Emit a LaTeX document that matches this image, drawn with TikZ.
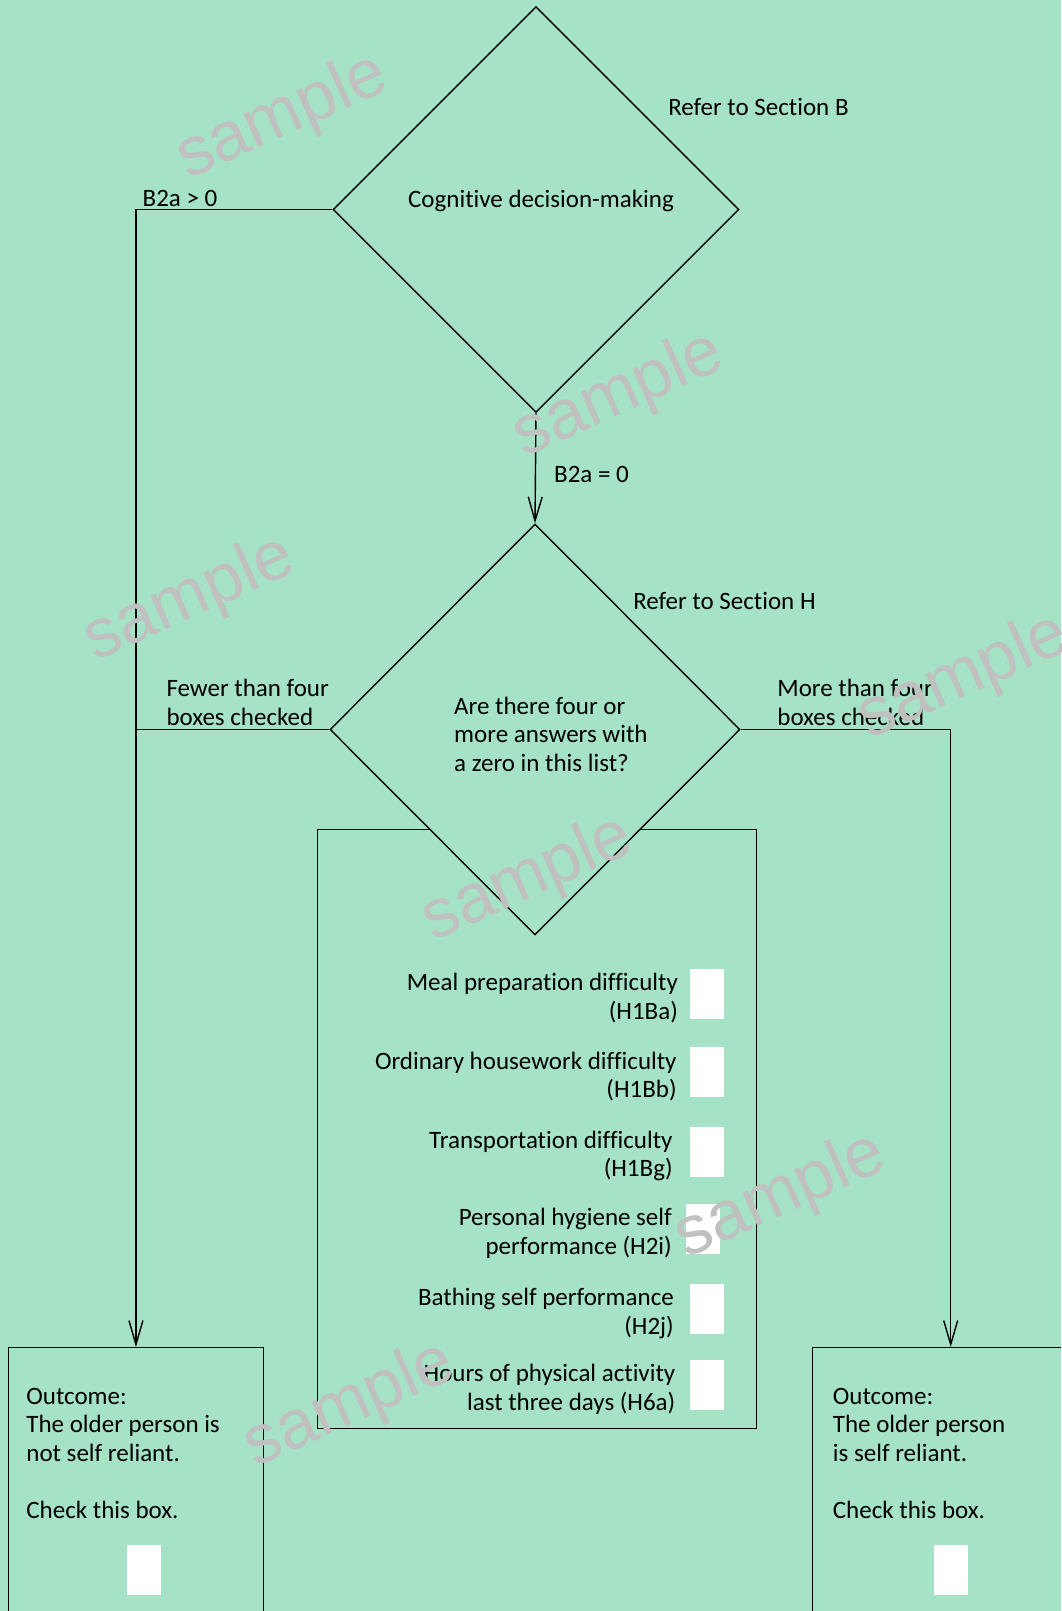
\documentclass[tikz,border=0pt]{standalone}
\usepackage{fontspec}
\setmainfont{Carlito}[Ligatures=NoCommon]
\newfontfamily\wmfont{Liberation Sans}
\usetikzlibrary{shapes.geometric,arrows.meta}
\definecolor{bg}{RGB}{165,226,198}
\definecolor{wm}{RGB}{192,192,192}
\begin{document}
\begin{tikzpicture}[x=1pt,y=-1pt,
  line width=1.4pt,
  txt/.style={font=\fontsize{25}{28.5}\selectfont, inner sep=0pt},
  dia/.style={diamond, draw, fill=bg, inner sep=0pt, aspect=1},
  arr/.style={-{Straight Barb[length=24pt,width=14pt]}},
  frame/.style={draw, rectangle, inner sep=0pt, anchor=north west},
  chk/.style={fill=white, draw=none, inner sep=0pt, minimum width=34pt, minimum height=50pt, anchor=north west},
  wmark/.style={font=\wmfont\fontsize{69}{69}\selectfont, text=wm, rotate=24, inner sep=0pt}
]
\fill[bg] (0,0) rectangle (1061,1611);
\useasboundingbox (0,0) rectangle (1061,1611);
\clip (0,0) rectangle (1061,1611);

% boxes
\node[frame, minimum width=439.2pt, minimum height=599pt] (lst) at (316.6,829) {};
\node[frame, minimum width=254.5pt, minimum height=320pt] (lo) at (8,1347) {};
\node[frame, minimum width=276pt, minimum height=320pt] (ro) at (812,1347) {};

% diamonds
\node[dia, minimum width=406pt, minimum height=406pt] (d1) at (536,209.5) {};
\node[dia, minimum width=410pt, minimum height=411pt] (d2) at (535,729.5) {};

% connectors
\draw[arr] (d1.west) -| (lo.north);
\draw[arr] (d1.south) -- (d2.north);
\draw (d2.west) -- (d2.west -| lo.north);
\draw[arr] (d2.east) -| (ro.north);

% texts (multi-line nodes are anchored at the baseline of their last line)
\node[txt, anchor=base west] (refb) at (667.6,115) {Refer to Section B};
\node[txt, anchor=base] (cog) at (541,207) {Cognitive decision-making};
\node[txt, anchor=base west] (gt) at (142,206) {B2a > 0};
\node[txt, anchor=base west] (eq) at (553.5,482) {B2a = 0};
\node[txt, anchor=base west] (refh) at (632.6,609.5) {Refer to Section H};
\node[txt, anchor=base west, align=left] (fewer) at (165.8,725) {Fewer than four\\boxes checked};
\node[txt, anchor=base west, align=left] (more) at (776.7,725) {More than four\\boxes checked};
\node[txt, anchor=base west, align=left] (q) at (453.5,771) {Are there four or\\more answers with\\a zero in this list?};

\node[txt, anchor=base east, align=right] (i1) at (678.6,1019) {Meal preparation difficulty\\(H1Ba)};
\node[txt, anchor=base east, align=right] (i2) at (677.3,1097.5) {Ordinary housework difficulty\\(H1Bb)};
\node[txt, anchor=base east, align=right] (i3) at (673.3,1176.5) {Transportation difficulty\\(H1Bg)};
\node[txt, anchor=base east, align=right] (i4) at (672.5,1254) {Personal hygiene self\\performance (H2i)};
\node[txt, anchor=base east, align=right] (i5) at (674.5,1334) {Bathing self performance\\(H2j)};
\node[txt, anchor=base east, align=right] (i6) at (676,1410) {Hours of physical activity\\last three days (H6a)};

\node[chk] (c1) at (688.8,968.2) {};
\node[chk] (c2) at (688.8,1046.4) {};
\node[chk] (c3) at (688.8,1126.4) {};
\node[chk] (c4) at (685,1203.5) {};
\node[chk] (c5) at (688.8,1283) {};
\node[chk] (c6) at (688.8,1359.5) {};

\node[txt, anchor=base west, align=left] (lot) at (25.7,1518.3) {Outcome:\\The older person is\\not self reliant.\\[28.5pt]Check this box.};
\node[txt, anchor=base west, align=left] (rot) at (832.2,1518.3) {Outcome:\\The older person\\is self reliant.\\[28.5pt]Check this box.};
\node[chk] (lc) at (125.8,1544.7) {};
\node[chk] (rc) at (933.7,1544.7) {};

% watermarks
\node[wmark] (w1) at (282.4,117.8) {sample};
\node[wmark] (w2) at (619,396) {sample};
\node[wmark] (w3) at (189.5,600) {sample};
\node[wmark] (w4) at (964,678) {sample};
\node[wmark] (w5) at (528,880) {sample};
\node[wmark] (w6) at (781,1197) {sample};
\node[wmark] (w7) at (350,1405.6) {sample};
\end{tikzpicture}
\end{document}
